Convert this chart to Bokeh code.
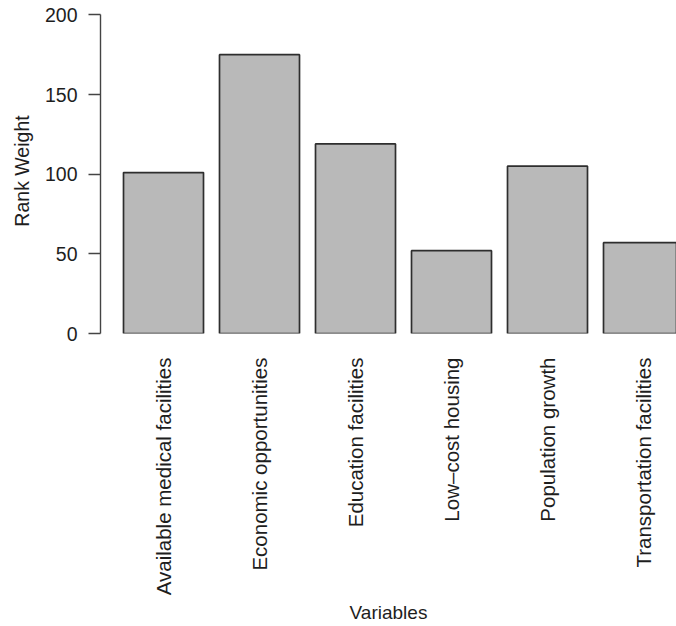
from bokeh.plotting import figure
from bokeh.models import Range1d, FixedTicker, ColumnDataSource
from bokeh.embed import file_html
from bokeh.resources import INLINE
import math

categories = ["Available medical facilities", "Economic opportunities",
              "Education facilities", "Low\u2013cost housing",
              "Population growth", "Transportation facilities"]
rank_weight = [101, 175, 119, 52, 105, 57]
y_ticks = [0, 50, 100, 150, 200]

bar_width = 1.0
space = 0.2
centers = [space + bar_width / 2 + i * (bar_width + space) for i in range(len(categories))]

src = ColumnDataSource(dict(x=centers, top=rank_weight))

p = figure(frame_width=576, frame_height=325, output_backend="svg",
           toolbar_location=None, x_range=Range1d(-0.0875, 7.1125),
           y_range=Range1d(0, 204), min_border_top=8, min_border_right=0,
           min_border_left=100, min_border_bottom=0)

p.vbar(x="x", top="top", bottom=0, width=bar_width, source=src,
       fill_color="#b9b9b9", line_color="#2e2e2e", line_width=1.7)

p.xgrid.visible = False
p.ygrid.visible = False
p.outline_line_color = None
p.background_fill_color = "white"
p.border_fill_color = "white"

txt = "#1e1e1e"
font = "Liberation Sans"

# y axis
ya = p.yaxis[0]
ya.ticker = FixedTicker(ticks=y_ticks)
ya.bounds = (0, 200)
ya.axis_line_color = "#444444"
ya.axis_line_width = 1.4
ya.major_tick_line_color = "#444444"
ya.major_tick_line_width = 1.4
ya.major_tick_out = 12
ya.major_tick_in = 0
ya.minor_tick_line_color = None
ya.major_label_standoff = 11
ya.major_label_text_font = font
ya.major_label_text_font_size = "19.5px"
ya.major_label_text_color = txt
ya.axis_label = "Rank Weight"
ya.axis_label_text_font = font
ya.axis_label_text_font_size = "19.5px"
ya.axis_label_text_font_style = "normal"
ya.axis_label_text_color = txt
ya.axis_label_standoff = 9

# x axis
xa = p.xaxis[0]
xa.ticker = FixedTicker(ticks=centers)
xa.major_label_overrides = {c: lab for c, lab in zip(centers, categories)}
xa.major_label_orientation = math.pi / 2
xa.axis_line_color = None
xa.major_tick_line_color = None
xa.minor_tick_line_color = None
xa.major_tick_out = 0
xa.major_tick_in = 0
xa.major_label_standoff = 24
xa.major_label_text_font = font
xa.major_label_text_font_size = "20.5px"
xa.major_label_text_color = txt
xa.axis_label = "Variables"
xa.axis_label_text_font = font
xa.axis_label_text_font_size = "19px"
xa.axis_label_text_font_style = "normal"
xa.axis_label_text_color = txt
xa.axis_label_standoff = 4

open("out.html", "w").write(file_html(p, INLINE))
